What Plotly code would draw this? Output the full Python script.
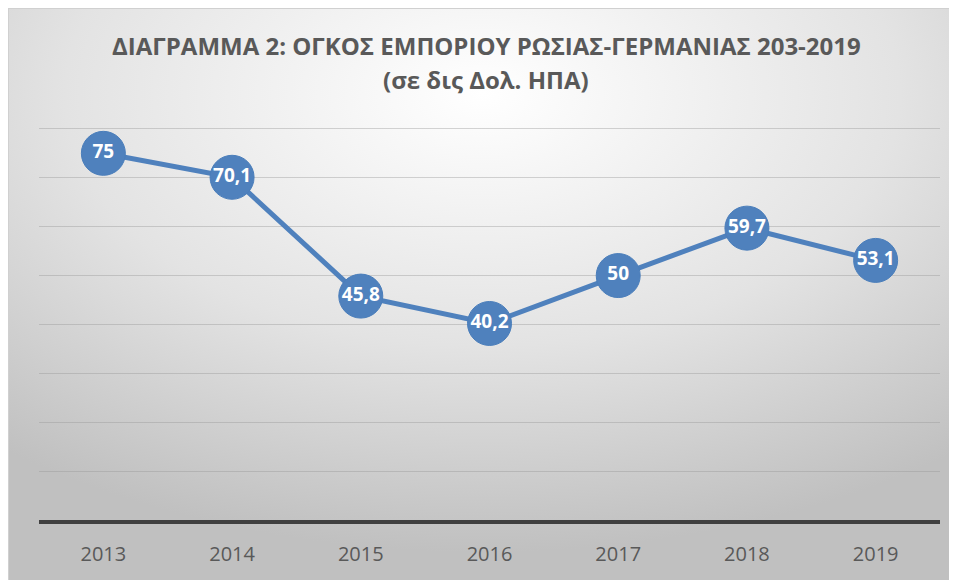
import base64
import plotly.graph_objects as go

years = ["2013", "2014", "2015", "2016", "2017", "2018", "2019"]
trade_volume = [75, 70.1, 45.8, 40.2, 50, 59.7, 53.1]
labels = [f"{v:g}".replace(".", ",") for v in trade_volume]

title_line1 = "ΔΙΑΓΡΑΜΜΑ 2: ΟΓΚΟΣ ΕΜΠΟΡΙΟΥ ΡΩΣΙΑΣ-ΓΕΡΜΑΝΙΑΣ 203-2019"
title_line2 = "(σε δις Δολ. ΗΠΑ)"

W, H = 949, 573
L, R, T, B = 31, 17, 116, 61
pw, ph = W - L - R, H - T - B
ymax = 81

svg = f"""<svg xmlns='http://www.w3.org/2000/svg' width='{W}' height='{H}' viewBox='0 0 {W} {H}' preserveAspectRatio='none'>
<defs><radialGradient id='g' cx='50%' cy='15%' r='80%' fx='50%' fy='15%'>
<stop offset='0' stop-color='#ffffff'/><stop offset='0.55' stop-color='#e3e3e3'/><stop offset='1' stop-color='#c0c0c0'/>
</radialGradient></defs>
<rect x='0' y='0' width='{W}' height='{H}' fill='url(#g)'/>
<line x1='0' y1='0.5' x2='{W}' y2='0.5' stroke='#d0d0d0' stroke-width='1'/>
<line x1='0.5' y1='0' x2='0.5' y2='{H}' stroke='#d0d0d0' stroke-width='1'/>
</svg>"""
src = "data:image/svg+xml;base64," + base64.b64encode(svg.encode()).decode()

fig = go.Figure()
fig.add_trace(go.Scatter(
    x=years, y=trade_volume, mode="lines+markers+text",
    line=dict(color="#4F81BD", width=5),
    marker=dict(size=44, color="#4F81BD", line=dict(color="#4A7EBB", width=1)),
    text=labels, textposition="middle center",
    textfont=dict(family="Open Sans", size=19, color="white", weight="bold"),
    cliponaxis=False, hoverinfo="skip",
))

fig.update_layout(
    width=W, height=H,
    margin=dict(l=L, r=R, t=T, b=B),
    paper_bgcolor="white", plot_bgcolor="rgba(0,0,0,0)",
    showlegend=False,
    images=[dict(source=src, xref="paper", yref="paper",
                 x=-L / pw, y=(H - B) / ph,
                 sizex=W / pw, sizey=H / ph,
                 xanchor="left", yanchor="top", sizing="stretch", layer="below")],
    xaxis=dict(type="category", range=[-0.5, len(years) - 0.5], showgrid=False, showline=True,
               linecolor="#404040", linewidth=4,
               ticks="", tickfont=dict(family="Open Sans", size=20, color="#595959"),
               ticklabelstandoff=13, zeroline=False, fixedrange=True),
    yaxis=dict(range=[0, ymax], dtick=10, tick0=0, showticklabels=False, showgrid=True,
               gridcolor="rgba(150,150,150,0.4)", gridwidth=1, zeroline=False, showline=False,
               fixedrange=True),
    annotations=[
        dict(text=f"<b>{title_line1}</b>", xref="paper", yref="paper", x=(478 - L) / pw,
             y=(H - B - 38) / ph, xanchor="center", yanchor="middle", showarrow=False,
             font=dict(family="Open Sans", size=24, color="#595959")),
        dict(text=f"<b>{title_line2}</b>", xref="paper", yref="paper", x=(478 - L) / pw,
             y=(H - B - 72) / ph, xanchor="center", yanchor="middle", showarrow=False,
             font=dict(family="Open Sans", size=24, color="#595959")),
    ],
)

fig.write_html("out.html")
